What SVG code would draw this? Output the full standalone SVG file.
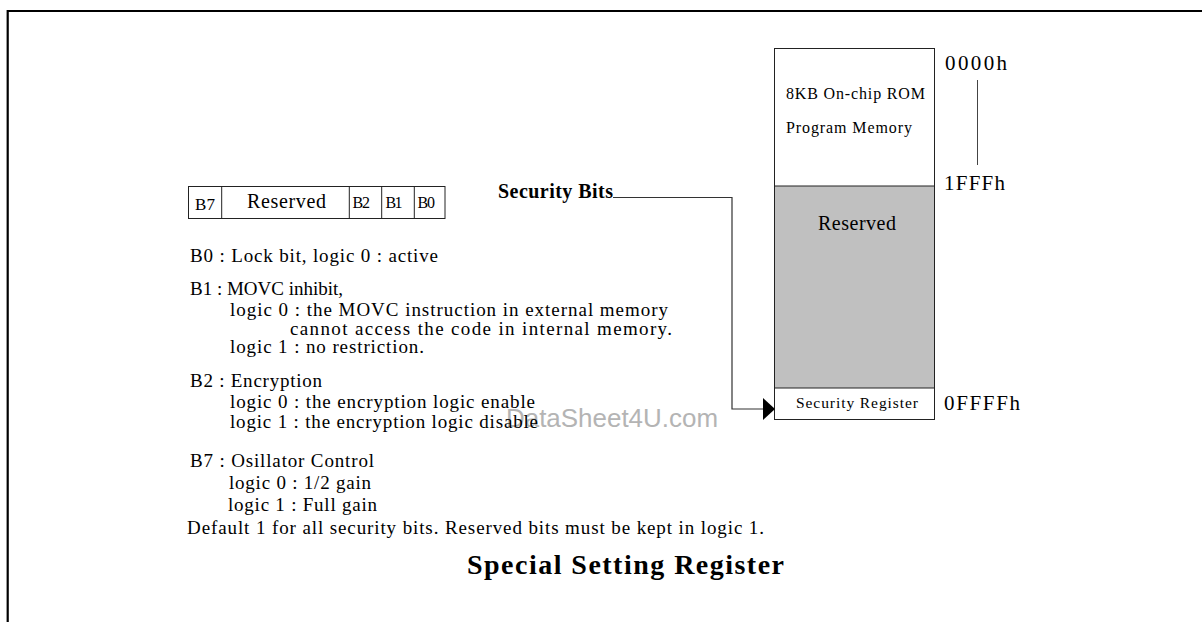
<svg xmlns="http://www.w3.org/2000/svg" width="1202" height="622" viewBox="0 0 1202 622">
<style>
  .t { font-family: "Liberation Serif", "Times New Roman", serif; fill: #000; }
  .b { font-family: "Liberation Serif", "Times New Roman", serif; font-weight: bold; fill: #000; }
  .body { font-size: 19px; }
  .box { fill: #fff; stroke: #222; stroke-width: 1; }
  .conn { fill: none; stroke: #333; stroke-width: 1.2; }
</style>
<defs>
  <marker id="arrow" viewBox="0 0 12 22" refX="12" refY="11" markerWidth="12" markerHeight="22" markerUnits="userSpaceOnUse" orient="auto">
    <path d="M0,0 L12,11 L0,22 z" fill="#000"/>
  </marker>
</defs>
<rect width="1202" height="622" fill="#fff"/>
<g id="frame">
  <path d="M7.7,622 V11 H1202" fill="none" stroke="#000" stroke-width="2.2"/>
</g>
<g id="watermark">
  <text x="506" y="427" font-family="'Liberation Sans', Arial, sans-serif" font-size="25" fill="#b4b4b4" textLength="212" lengthAdjust="spacingAndGlyphs">DataSheet4U.com</text>
</g>
<g id="register-table">
  <rect class="box" x="188.5" y="186.5" width="256.5" height="32"/>
  <path d="M221.7,186.5 V218.5 M349.3,186.5 V218.5 M381.7,186.5 V218.5 M414.3,186.5 V218.5" stroke="#222" stroke-width="1"/>
  <text class="t" x="195" y="209.5" font-size="17" textLength="20" lengthAdjust="spacing">B7</text>
  <text class="t" x="247" y="208" font-size="20" textLength="79" lengthAdjust="spacing">Reserved</text>
  <text class="t" x="352.5" y="207.5" font-size="16" textLength="17.5" lengthAdjust="spacing">B2</text>
  <text class="t" x="385.5" y="207.5" font-size="16" textLength="17" lengthAdjust="spacing">B1</text>
  <text class="t" x="417.5" y="207.5" font-size="16" textLength="17.5" lengthAdjust="spacing">B0</text>
</g>
<g id="bit-descriptions">
  <text class="t body" x="190" y="262" textLength="248" lengthAdjust="spacing">B0 : Lock bit, logic 0 : active</text>
  <text class="t body" x="190" y="295">B1 : MOVC inhibit,</text>
  <text class="t body" x="230" y="316" textLength="438" lengthAdjust="spacing">logic 0 : the MOVC instruction in external memory</text>
  <text class="t body" x="290" y="335" textLength="382" lengthAdjust="spacing">cannot access the code in internal memory.</text>
  <text class="t body" x="230" y="353" textLength="194" lengthAdjust="spacing">logic 1 : no restriction.</text>
  <text class="t body" x="190" y="386.5" textLength="132" lengthAdjust="spacing">B2 : Encryption</text>
  <text class="t body" x="230" y="408" textLength="305" lengthAdjust="spacing">logic 0 : the encryption logic enable</text>
  <text class="t body" x="230" y="428" textLength="308" lengthAdjust="spacing">logic 1 : the encryption logic disable</text>
  <text class="t body" x="190" y="467" textLength="184" lengthAdjust="spacing">B7 : Osillator Control</text>
  <text class="t body" x="229" y="488.5" textLength="142" lengthAdjust="spacing">logic 0 : 1/2 gain</text>
  <text class="t body" x="228" y="510.5" textLength="149" lengthAdjust="spacing">logic 1 : Full gain</text>
  <text class="t body" x="187" y="534" textLength="577" lengthAdjust="spacing">Default 1 for all security bits.  Reserved bits must be kept in logic 1.</text>
</g>
<g id="security-bits-label">
  <text class="b" x="498" y="198" font-size="20" textLength="115" lengthAdjust="spacing">Security Bits</text>
</g>
<g id="memory-map">
  <rect class="box" x="774.5" y="48.5" width="160" height="371"/>
  <rect x="774.5" y="186" width="160" height="202" fill="#c0c0c0" stroke="#222" stroke-width="1"/>
  <text class="t" x="786" y="99" font-size="16" textLength="139" lengthAdjust="spacing">8KB On-chip ROM</text>
  <text class="t" x="786" y="133" font-size="16" textLength="126" lengthAdjust="spacing">Program Memory</text>
  <text class="t" x="818" y="230" font-size="20" textLength="78" lengthAdjust="spacing">Reserved</text>
  <text class="t" x="796" y="408" font-size="15.5" textLength="122" lengthAdjust="spacing">Security Register</text>
</g>
<g id="addresses">
  <text class="t" x="945" y="70" font-size="21" textLength="62" lengthAdjust="spacing">0000h</text>
  <line x1="977.5" y1="80" x2="977.5" y2="165" stroke="#444" stroke-width="1"/>
  <text class="t" x="944" y="190" font-size="21" textLength="61" lengthAdjust="spacing">1FFFh</text>
  <text class="t" x="944" y="410" font-size="21" textLength="76" lengthAdjust="spacing">0FFFFh</text>
</g>
<g id="connectors">
  <path class="conn" d="M613,197.5 H732 V409 H775" marker-end="url(#arrow)"/>
</g>
<g id="title">
  <text class="b" x="467" y="574" font-size="28" textLength="317" lengthAdjust="spacing">Special Setting Register</text>
</g>
</svg>
